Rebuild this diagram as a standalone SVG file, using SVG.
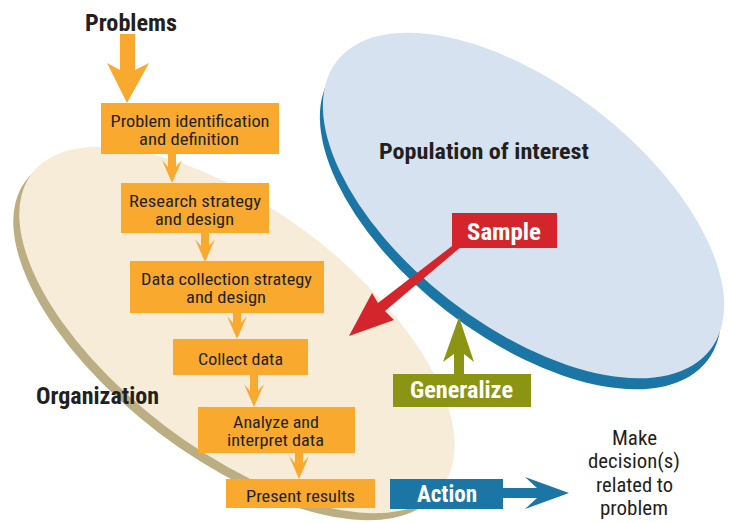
<svg xmlns="http://www.w3.org/2000/svg" width="729" height="523" viewBox="0 0 729 523">
  <style>
    .cond { font-family: "Liberation Sans Narrow", "Roboto Condensed", "Liberation Sans", Arial, sans-serif; font-stretch: condensed; }
    .step rect { fill: #f9aa2e; }
    .step text { font-size: 16.5px; fill: #231f20; text-anchor: middle; }
    .title { font-size: 24px; font-weight: bold; fill: #231f20; text-anchor: middle; }
    .tag text { font-size: 24px; font-weight: bold; fill: #ffffff; text-anchor: middle; }
    .note { font-size: 20px; fill: #231f20; text-anchor: middle; }
    .flow { fill: #f9aa2e; }
  </style>
  <defs>
    <!-- small flow arrow, tip at origin, shaft reaching upward under the box above -->
    <path id="flowArrow" d="M-4,-40 L4,-40 L4,-16 L10,-23 L0,0 L-10,-23 L-4,-16 Z"/>
  </defs>

  <!-- organization disc -->
  <g id="organization-disc">
    <ellipse cx="237" cy="330" rx="258" ry="120" transform="translate(-6,7) rotate(37.3 237 330)" fill="#bbae82"/>
    <ellipse cx="237" cy="330" rx="258" ry="120" transform="rotate(37.3 237 330)" fill="#f6ecd7"/>
  </g>

  <!-- population disc -->
  <g id="population-disc">
    <ellipse cx="523.5" cy="205.5" rx="236" ry="120" transform="translate(-3,11) rotate(37.7 523.5 205.5)" fill="#1b76a5"/>
    <ellipse cx="523.5" cy="205.5" rx="236" ry="120" transform="rotate(37.7 523.5 205.5)" fill="#d6e2ef"/>
  </g>

  <!-- connectors -->
  <g id="connectors">
    <path class="flow" d="M120,34 L135,34 L135,70 L149,63 L127,103 L107,63 L120,70 Z"/>
    <use href="#flowArrow" class="flow" x="172" y="183"/>
    <use href="#flowArrow" class="flow" x="205" y="262"/>
    <use href="#flowArrow" class="flow" x="237" y="339"/>
    <use href="#flowArrow" class="flow" x="254" y="407"/>
    <use href="#flowArrow" class="flow" x="299" y="479"/>
    <path fill="#d4242c" d="M452,246 L378,303 L372,293 L349,336 L394,320 L385,311 L462,246 Z"/>
    <path fill="#8c9413" d="M454,375 L454,354 L443,362 L459,317 L474,362 L464,354 L464,375 Z"/>
    <path fill="#1b76a5" d="M500,488 L537,488 L525,477 L569,493 L525,509 L537,498 L500,498 Z"/>
  </g>

  <!-- labels -->
  <g id="problems">
    <text class="cond title" x="131" y="31" textLength="92" lengthAdjust="spacingAndGlyphs">Problems</text>
  </g>
  <g id="organization-label">
    <text class="cond title" x="97.5" y="404" style="font-size:23px" textLength="123" lengthAdjust="spacingAndGlyphs">Organization</text>
  </g>
  <g id="population-label">
    <text class="cond title" x="484" y="159" style="font-size:22px" textLength="210" lengthAdjust="spacingAndGlyphs">Population of interest</text>
  </g>

  <!-- process steps -->
  <g id="step-identification" class="step cond">
    <rect x="101" y="103" width="178" height="51"/>
    <text x="190" y="126.5" textLength="159" lengthAdjust="spacingAndGlyphs">Problem identification</text>
    <text x="189" y="145" textLength="100" lengthAdjust="spacingAndGlyphs">and definition</text>
  </g>
  <g id="step-research" class="step cond">
    <rect x="121" y="183" width="148" height="50"/>
    <text x="195" y="206.5" textLength="132" lengthAdjust="spacingAndGlyphs">Research strategy</text>
    <text x="194.5" y="225" textLength="79" lengthAdjust="spacingAndGlyphs">and design</text>
  </g>
  <g id="step-collection-design" class="step cond">
    <rect x="130" y="261" width="194" height="52"/>
    <text x="226.5" y="284.5" textLength="171" lengthAdjust="spacingAndGlyphs">Data collection strategy</text>
    <text x="226" y="303" textLength="80" lengthAdjust="spacingAndGlyphs">and design</text>
  </g>
  <g id="step-collect" class="step cond">
    <rect x="173" y="339" width="135" height="36"/>
    <text x="240.5" y="365" textLength="85" lengthAdjust="spacingAndGlyphs">Collect data</text>
  </g>
  <g id="step-analyze" class="step cond">
    <rect x="198" y="407" width="157" height="46"/>
    <text x="276" y="427.5" textLength="86" lengthAdjust="spacingAndGlyphs">Analyze and</text>
    <text x="275.5" y="446" textLength="97" lengthAdjust="spacingAndGlyphs">interpret data</text>
  </g>
  <g id="step-present" class="step cond">
    <rect x="226" y="479" width="149" height="29"/>
    <text x="300.5" y="502" textLength="109" lengthAdjust="spacingAndGlyphs">Present results</text>
  </g>

  <!-- coloured tags -->
  <g id="sample" class="tag cond">
    <rect x="452" y="213" width="105" height="35" fill="#d4242c"/>
    <text x="504" y="240" textLength="74" lengthAdjust="spacingAndGlyphs">Sample</text>
  </g>
  <g id="generalize" class="tag cond">
    <rect x="393" y="374" width="138" height="33" fill="#8c9413"/>
    <text x="461.5" y="398" textLength="103" lengthAdjust="spacingAndGlyphs">Generalize</text>
  </g>
  <g id="action" class="tag cond">
    <rect x="390" y="479" width="113" height="30" fill="#1b76a5"/>
    <text x="447" y="502" style="font-size:23px" textLength="60" lengthAdjust="spacingAndGlyphs">Action</text>
  </g>

  <g id="decision">
    <text class="cond note" x="634.5" y="445" textLength="45" lengthAdjust="spacingAndGlyphs">Make</text>
    <text class="cond note" x="634" y="468" textLength="92" lengthAdjust="spacingAndGlyphs">decision(s)</text>
    <text class="cond note" x="634.5" y="492" textLength="77" lengthAdjust="spacingAndGlyphs">related to</text>
    <text class="cond note" x="634" y="515" textLength="68" lengthAdjust="spacingAndGlyphs">problem</text>
  </g>
</svg>
